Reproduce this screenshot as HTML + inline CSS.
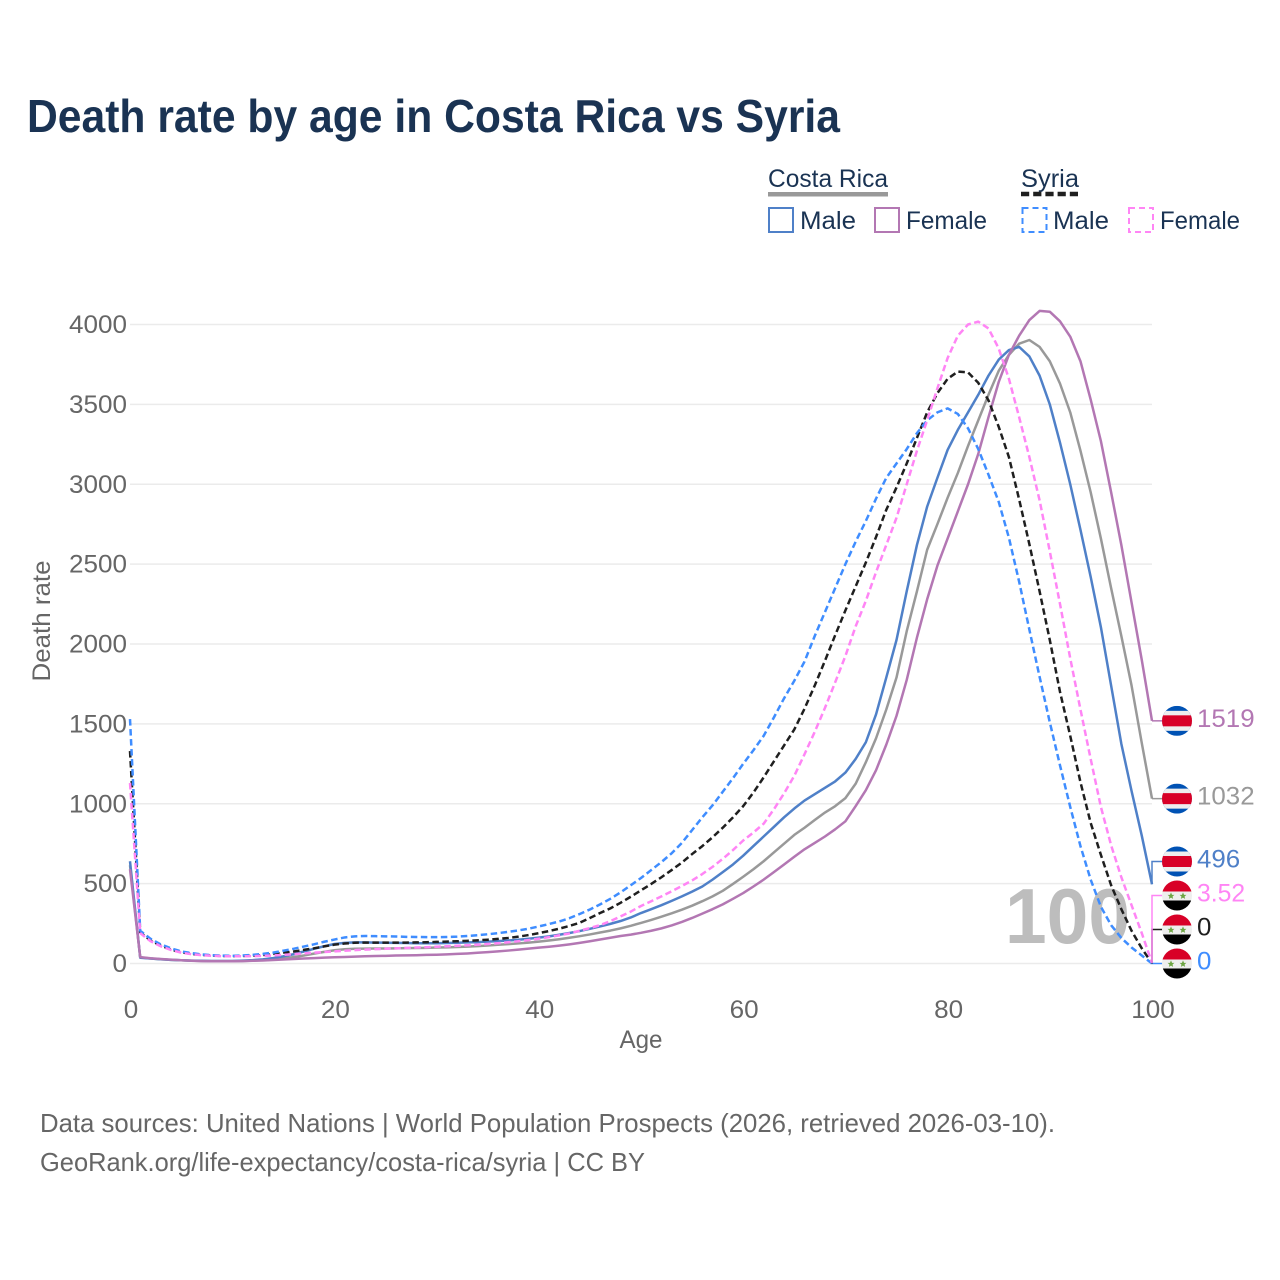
<!DOCTYPE html>
<html lang="en">
<head>
<meta charset="utf-8">
<title>Death rate by age in Costa Rica vs Syria</title>
<style>
html,body{margin:0;padding:0;background:#fff;}
svg{display:block;font-family:"Liberation Sans",sans-serif;}
</style>
</head>
<body>
<svg id="chart" width="1280" height="1280" viewBox="0 0 1280 1280" xmlns="http://www.w3.org/2000/svg">
  <rect width="1280" height="1280" fill="#fff"/>
  <text x="27" y="132" font-size="46" font-weight="700" fill="#1a3353" textLength="813" lengthAdjust="spacingAndGlyphs">Death rate by age in Costa Rica vs Syria</text>

  <g font-size="25" fill="#1a3353">
    <text x="768" y="187" textLength="120" lengthAdjust="spacingAndGlyphs">Costa Rica</text>
    <rect x="768" y="192" width="120" height="4.5" fill="#999"/>
    <text x="1021" y="187" textLength="58" lengthAdjust="spacingAndGlyphs">Syria</text>
    <line x1="1021" y1="194" x2="1079" y2="194" stroke="#1f1f1f" stroke-width="4.5" stroke-dasharray="8.2 4"/>
    <g>
      <rect x="769" y="208" width="24" height="24" fill="none" stroke="#4f80c8" stroke-width="2"/>
      <text x="800" y="229" textLength="56" lengthAdjust="spacingAndGlyphs">Male</text>
    </g>
    <g>
      <rect x="875" y="208" width="24" height="24" fill="none" stroke="#b377b3" stroke-width="2"/>
      <text x="906" y="229" textLength="81" lengthAdjust="spacingAndGlyphs">Female</text>
    </g>
    <g>
      <rect x="1022.5" y="208" width="24" height="24" fill="none" stroke="#3f8dff" stroke-width="2" stroke-dasharray="6 4"/>
      <text x="1053" y="229" textLength="56" lengthAdjust="spacingAndGlyphs">Male</text>
    </g>
    <g>
      <rect x="1129" y="208" width="24" height="24" fill="none" stroke="#ff85f5" stroke-width="2" stroke-dasharray="6 4"/>
      <text x="1160" y="229" textLength="80" lengthAdjust="spacingAndGlyphs">Female</text>
    </g>
  </g>

  <g id="grid"></g>
  <g id="yticks" font-size="25" fill="#666" text-anchor="end"></g>
  <g id="xticks" font-size="25" fill="#666" text-anchor="middle"></g>
  <text transform="translate(50,621) rotate(-90)" text-anchor="middle" font-size="25" fill="#666" textLength="121" lengthAdjust="spacingAndGlyphs">Death rate</text>
  <text x="641" y="1048" text-anchor="middle" font-size="25" fill="#666" textLength="43" lengthAdjust="spacingAndGlyphs">Age</text>

  <text x="1005" y="943" font-size="78" font-weight="700" fill="#bdbdbd" textLength="125" lengthAdjust="spacingAndGlyphs">100</text>

  <g id="series" fill="none"></g>
  <g id="ends"></g>

  <g font-size="26" fill="#666">
    <text x="40" y="1132" textLength="1015" lengthAdjust="spacingAndGlyphs">Data sources: United Nations | World Population Prospects (2026, retrieved 2026-03-10).</text>
    <text x="40" y="1171" textLength="605" lengthAdjust="spacingAndGlyphs">GeoRank.org/life-expectancy/costa-rica/syria | CC BY</text>
  </g>
</svg>
<script>
var yTickValues = [0, 500, 1000, 1500, 2000, 2500, 3000, 3500, 4000];
var xTickValues = [0, 20, 40, 60, 80, 100];

var costaRicaBoth = [615,38,31,27,23,20,18,16,15,15,15,16,18,21,26,32,40,50,62,73,83,89,92,93,94,94,95,96,97,98,100,101,103,106,109,113,117,121,126,131,137,144,152,161,171,182,194,206,220,236,254,273,293,314,337,362,390,420,455,498,543,590,640,695,750,805,850,898,945,985,1035,1125,1260,1410,1590,1790,2080,2330,2590,2750,2915,3070,3240,3400,3560,3710,3810,3880,3903,3860,3770,3630,3450,3210,2950,2660,2350,2050,1740,1380,1032];
var costaRicaMale = [640,36,31,27,23,20,18,17,16,16,16,18,21,26,34,45,58,75,92,108,122,129,132,132,131,130,129,128,127,127,127,128,130,132,134,137,140,144,149,155,162,170,180,191,203,217,232,248,266,288,316,340,365,392,420,450,482,525,572,620,675,735,795,855,915,970,1020,1060,1100,1140,1195,1280,1385,1560,1790,2025,2330,2620,2860,3040,3215,3340,3450,3560,3680,3780,3840,3860,3800,3680,3500,3260,3000,2715,2420,2105,1740,1375,1080,800,496];
var costaRicaFemale = [590,40,33,28,24,20,17,15,14,14,14,15,17,19,22,25,28,31,34,37,39,41,43,45,47,48,50,51,52,54,55,57,60,63,67,71,76,81,87,93,99,105,112,120,129,139,150,161,172,181,192,205,220,238,260,285,312,340,370,405,441,482,525,572,620,668,715,755,795,840,890,985,1085,1210,1370,1550,1775,2040,2280,2490,2660,2830,3000,3190,3420,3640,3810,3930,4028,4085,4080,4020,3924,3770,3530,3270,2950,2620,2260,1900,1519];
var syriaBoth = [1330,195,145,112,88,70,60,54,50,47,46,47,49,53,60,68,75,85,95,107,118,125,130,131,131,131,131,131,132,133,135,137,139,142,145,149,154,160,168,178,190,203,218,235,255,285,316,345,380,418,458,498,540,585,632,685,735,790,850,915,985,1070,1165,1265,1365,1465,1595,1740,1895,2055,2210,2360,2510,2670,2840,2980,3130,3290,3450,3570,3660,3705,3700,3635,3525,3360,3170,2905,2625,2330,2025,1700,1425,1135,880,680,490,340,205,95,0];
var syriaMale = [1530,205,155,120,95,76,65,57,52,49,48,50,54,60,68,80,92,106,120,136,150,163,170,172,171,170,169,167,166,165,165,166,168,172,177,183,190,198,207,218,232,247,263,284,310,338,370,405,445,490,535,585,635,690,755,835,915,990,1075,1160,1250,1335,1425,1540,1660,1770,1890,2050,2200,2350,2500,2640,2770,2910,3040,3130,3220,3320,3400,3450,3475,3440,3350,3220,3060,2890,2665,2390,2090,1795,1510,1240,980,735,525,355,240,160,100,50,0];
var syriaFemale = [1130,190,140,108,85,68,58,52,48,46,45,45,46,48,50,54,58,63,68,72,76,80,84,87,90,92,95,97,100,102,105,108,111,114,118,122,127,133,139,146,155,165,176,188,205,222,240,265,295,325,360,390,420,452,485,520,560,605,655,710,770,820,875,965,1065,1175,1310,1450,1600,1760,1925,2110,2270,2450,2620,2790,3000,3210,3400,3600,3790,3930,4000,4018,3975,3850,3660,3420,3170,2900,2580,2250,1910,1590,1280,980,740,540,365,190,3.52];

var seriesNames = ['costa-rica-both', 'costa-rica-male', 'costa-rica-female', 'syria-both', 'syria-male', 'syria-female'];
var seriesValues = [costaRicaBoth, costaRicaMale, costaRicaFemale, syriaBoth, syriaMale, syriaFemale];
var seriesColors = ['#999999', '#4f80c8', '#b377b3', '#1f1f1f', '#3f8dff', '#ff85f5'];
var seriesDashed = [false, false, false, true, true, true];
var seriesCountry = ['costa-rica', 'costa-rica', 'costa-rica', 'syria', 'syria', 'syria'];

var NS = 'http://www.w3.org/2000/svg';
var plotLeft = 130, plotRight = 1152, plotBottom = 963.5, plotTop = 324.5;
var ageMax = 100, rateMax = 4000;
function xScale(age) { return plotLeft + (plotRight - plotLeft) * age / ageMax; }
function yScale(rate) { return plotBottom - (plotBottom - plotTop) * rate / rateMax; }
function make(tag, attrs, parent) {
  var el = document.createElementNS(NS, tag);
  for (var k in attrs) el.setAttribute(k, attrs[k]);
  parent.appendChild(el);
  return el;
}

var grid = document.getElementById('grid');
var yticks = document.getElementById('yticks');
yTickValues.forEach(function (v) {
  var line = make('line', {x1: plotLeft, x2: plotRight, y1: yScale(v), y2: yScale(v), stroke: '#ebebeb', 'stroke-width': 1.5}, grid);
  
  
  var label = make('text', {x: 127, y: yScale(v) + 8.5}, yticks);
  
  
  label.setAttribute('textLength', String(v).length * 14.5);
  label.setAttribute('lengthAdjust', 'spacingAndGlyphs');
  label.textContent = v;
});

var xticks = document.getElementById('xticks');
xTickValues.forEach(function (v) {
  var label = make('text', {x: xScale(v) + 1, y: 1018}, xticks);
  
  
  label.setAttribute('textLength', String(v).length * 14.5);
  label.setAttribute('lengthAdjust', 'spacingAndGlyphs');
  label.textContent = v;
});

var seriesGroup = document.getElementById('series');
seriesValues.forEach(function (vals, i) {
  var d = vals.map(function (v, age) {
    return (age ? 'L' : 'M') + xScale(age).toFixed(2) + ' ' + yScale(v).toFixed(2);
  }).join('');
  var path = make('path', {d: d, stroke: seriesColors[i], 'stroke-width': 2.5, 'stroke-linejoin': 'round'}, seriesGroup);
  
  
  if (seriesDashed[i]) path.setAttribute('stroke-dasharray', '6.5 3.5');
});

/* End labels: stack upward from the lowest final value so flags do not collide */
var ends = document.getElementById('ends');
var order = seriesValues.map(function (v, i) { return i; }).sort(function (a, b) {
  var la = seriesValues[a][ageMax], lb = seriesValues[b][ageMax];
  return la - lb || (b - a);
});
var lastY = null;
var minGap = 34;
order.forEach(function (i) {
  var value = seriesValues[i][ageMax];
  var trueY = yScale(value);
  var y = trueY;
  if (lastY !== null && lastY - y < minGap) y = lastY - minGap;
  lastY = y;
  var name = seriesNames[i];
  var color = seriesColors[i];
  var g = make('g', {}, ends);
  
  

  var leader = make('path', {d: 'M' + xScale(ageMax) + ' ' + trueY + 'V' + y + 'H1164', fill: 'none', stroke: color, 'stroke-width': 1.5}, g);
  
  

  var flag = make('g', {transform: 'translate(1177,' + y + ')'}, g);
  
  
  var clipId = 'clip-' + name;
  var clip = make('clipPath', {id: clipId}, flag);
  make('circle', {r: 15}, clip);
  var inner = make('g', {'clip-path': 'url(#' + clipId + ')'}, flag);
  if (seriesCountry[i] === 'costa-rica') {
    make('rect', {x: -15, y: -15, width: 30, height: 30, fill: '#0052b4'}, inner);
    make('rect', {x: -15, y: -10, width: 30, height: 20, fill: '#eeeeee'}, inner);
    make('rect', {x: -15, y: -5.5, width: 30, height: 11, fill: '#d80027'}, inner);
  } else {
    make('rect', {x: -15, y: -15, width: 30, height: 30, fill: '#eeeeee'}, inner);
    make('rect', {x: -15, y: -15, width: 30, height: 11, fill: '#d80027'}, inner);
    make('rect', {x: -15, y: 5, width: 30, height: 10, fill: '#000000'}, inner);
    [-6, 6].forEach(function (sx) {
      make('polygon', {fill: '#6da544', transform: 'translate(' + sx + ',0.5) scale(3.6)',
        points: '0,-1 0.29,-0.31 0.95,-0.31 0.43,0.14 0.59,0.81 0,0.45 -0.59,0.81 -0.43,0.14 -0.95,-0.31 -0.29,-0.31'}, inner);
    });
  }

  var text = make('text', {x: 1197, y: y + 6, 'font-size': 25, fill: color}, g);
  
  
  var str = String(value);
  var digits = str.replace('.', '').length;
  text.setAttribute('textLength', digits * 14.4 + (str.indexOf('.') >= 0 ? 5 : 0));
  text.setAttribute('lengthAdjust', 'spacingAndGlyphs');
  text.textContent = str;
});
</script>
</body>
</html>
